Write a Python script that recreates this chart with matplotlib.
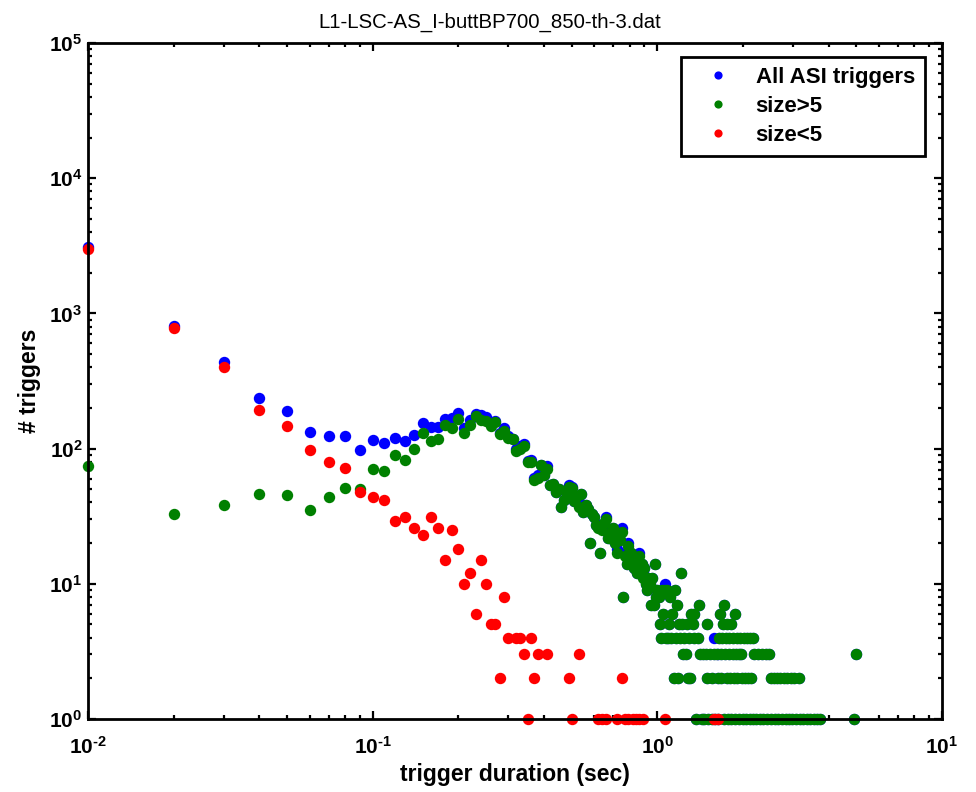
import numpy as np
import matplotlib.pyplot as plt
from matplotlib.ticker import FuncFormatter

plt.rcParams['font.family'] = ['Liberation Sans', 'DejaVu Sans']
plt.rcParams['font.weight'] = 'bold'
plt.rcParams['mathtext.fontset'] = 'custom'
plt.rcParams['mathtext.rm'] = 'Liberation Sans:bold'
plt.rcParams['mathtext.bf'] = 'Liberation Sans:bold'
plt.rcParams['mathtext.sf'] = 'Liberation Sans:bold'
plt.rcParams['mathtext.it'] = 'Liberation Sans:bold:italic'

# ================= data (10 ms histogram bins) =================
dur = [0.01, 0.02, 0.03, 0.04, 0.05, 0.06, 0.07, 0.08, 0.09, 0.10,
       0.11, 0.12, 0.13, 0.14, 0.15, 0.16, 0.17, 0.18, 0.19, 0.20,
       0.21, 0.22, 0.23, 0.24, 0.25, 0.26, 0.27, 0.28, 0.29, 0.30,
       0.31, 0.32, 0.33, 0.34, 0.35, 0.36, 0.37, 0.38, 0.39, 0.40,
       0.41, 0.42, 0.43, 0.44, 0.45, 0.46, 0.47, 0.48, 0.49, 0.50,
       0.51, 0.52, 0.53, 0.54, 0.55, 0.56, 0.57, 0.58, 0.59, 0.60,
       0.61, 0.62, 0.63, 0.64, 0.65, 0.66, 0.67, 0.68, 0.69, 0.70,
       0.71, 0.72, 0.73, 0.74, 0.75, 0.76, 0.77, 0.78, 0.79, 0.80,
       0.81, 0.82, 0.83, 0.84, 0.85, 0.86, 0.87, 0.88, 0.89, 0.90,
       0.91, 0.92, 0.93, 0.94, 0.95, 0.96, 0.97, 0.98, 0.99, 1.00,
       1.01, 1.02, 1.03, 1.04, 1.05, 1.06]

# all ASI triggers
n_all = [3074, 813, 438, 238, 191, 132, 123, 123, 98, 115,
         110, 119, 113, 126, 154, 145, 144, 165, 168, 183,
         141, 162, 181, 177, 170, 153, 161, 130, 143, 124,
         118, 100, 104, 108, 81, 83, 61, 64, 76, 64,
         74, 54, 55, 48, 50, 37, 42, 45, 54, 52,
         41, 44, 40, 46, 34, 38, 36, 20, 33, 31,
         27, 27, 17, 26, 28, 31, 22, 22, 24, 26,
         20, 18, 22, 21, 26, 8, 17, 14, 20, 15,
         17, 15, 13, 15, 12, 17, 12, 14, 12, 13,
         10, 9, 11, 10, 7, 11, 7, 14, 8, 9,
         8, 5, 4, 9, 6, 10]

# size>5
n_big = [74, 33, 38, 46, 45, 35, 44, 51, 50, 71,
         68, 90, 82, 100, 131, 114, 118, 150, 143, 165,
         131, 150, 175, 162, 160, 148, 156, 128, 135, 120,
         118, 96, 100, 105, 80, 79, 59, 61, 76, 64,
         71, 54, 55, 48, 50, 37, 42, 45, 52, 51,
         41, 44, 37, 46, 34, 38, 36, 20, 33, 31,
         27, 26, 17, 25, 28, 30, 22, 22, 24, 26,
         20, 17, 22, 21, 24, 8, 16, 14, 19, 15,
         17, 14, 13, 14, 12, 16, 12, 14, 11, 13,
         10, 9, 11, 10, 7, 11, 7, 14, 8, 9,
         8, 5, 4, 9, 6, 9]

# size<5 (0 = empty bin)
n_small = [3000, 780, 400, 192, 146, 97, 79, 72, 48, 44,
           42, 29, 31, 26, 23, 31, 26, 15, 25, 18,
           10, 12, 6, 15, 10, 5, 5, 2, 8, 4,
           0, 4, 4, 3, 1, 4, 2, 3, 0, 0,
           3, 0, 0, 0, 0, 0, 0, 0, 2, 1,
           0, 0, 3, 0, 0, 0, 0, 0, 0, 0,
           0, 1, 0, 1, 0, 1, 0, 0, 0, 0,
           0, 1, 0, 0, 2, 0, 1, 0, 1, 0,
           0, 1, 0, 1, 0, 1, 0, 0, 1, 0,
           0, 0, 0, 0, 0, 0, 0, 0, 0, 0,
           0, 0, 0, 0, 0, 1]

# long durations, size>5 (count: durations), all = size>5 here
big_tail = {
    12: [1.21],
    9: [1.08, 1.15],
    8: [1.11],
    7: [1.17, 1.40, 1.72],
    6: [1.13, 1.31, 1.35, 1.66, 1.87],
    5: [1.10, 1.19, 1.22, 1.27, 1.33, 1.50, 1.70, 1.76, 1.82],
    4: [1.07, 1.09, 1.12, 1.16, 1.20, 1.24, 1.29, 1.34, 1.39, 1.65,
        1.69, 1.74, 1.79, 1.85, 1.90, 1.95, 2.01, 2.07, 2.12, 2.16],
    3: [1.23, 1.26, 1.41, 1.45, 1.48, 1.53, 1.58, 1.62, 1.67, 1.73,
        1.78, 1.84, 1.89, 1.93, 1.97, 2.19, 2.26, 2.33, 2.40, 2.47, 5.00],
    2: [1.14, 1.18, 1.28, 1.30, 1.49, 1.55, 1.63, 1.68, 1.75, 1.80,
        1.86, 1.91, 1.98, 2.04, 2.09, 2.13, 2.50, 2.56, 2.63, 2.70,
        2.78, 2.86, 2.94, 3.03, 3.14],
    1: [1.37, 1.43, 1.46, 1.51, 1.56, 1.60, 1.64, 1.71, 1.77, 1.81,
        1.88, 1.94, 2.00, 2.05, 2.11, 2.17, 2.23, 2.29, 2.36, 2.43,
        2.51, 2.58, 2.66, 2.74, 2.82, 2.90, 2.98, 3.07, 3.16, 3.25,
        3.35, 3.45, 3.55, 3.65, 3.74, 4.90],
}
all_tail_extra = {4: [1.58], 3: [1.63]}
small_tail_dur = [1.58, 1.63]
small_tail_n = [1, 1]


def rows_to_xy(rows):
    x, y = [], []
    for c, ds in rows.items():
        x += ds
        y += [c] * len(ds)
    return np.array(x), np.array(y, dtype=float)


# 10^n label with a plain hyphen like the original
def pow10_label(v, pos):
    e = int(round(np.log10(v)))
    e_txt = str(e).replace('-', r'\text{-}')
    return r'$\mathdefault{10^{%s}}$' % e_txt


bx, by = rows_to_xy(big_tail)
ex, ey = rows_to_xy(all_tail_extra)
small = np.array(n_small, dtype=float)
small[small == 0] = np.nan

# ================= plot =================
fig = plt.figure(figsize=(9.76, 7.92), dpi=100)
ax = fig.add_axes([88/976, 1 - 719/792, (942 - 88)/976, (719 - 43)/792])

kw = dict(ls='none', marker='o', ms=8.2, mew=0, clip_on=False)
ax.plot(np.r_[dur, bx, ex], np.r_[n_all, by, ey], color='#0000ff',
        label='All ASI triggers', **kw)
ax.plot(np.r_[dur, bx], np.r_[n_big, by], color='#008000',
        label='size>5', **kw)
ax.plot(np.r_[dur, small_tail_dur], np.r_[small, small_tail_n], color='#ff0000',
        label='size<5', **kw)

ax.set_xscale('log')
ax.set_yscale('log')
ax.set_xlim(1e-2, 1e1)
ax.set_ylim(1e0, 1e5)
ax.xaxis.set_major_formatter(FuncFormatter(pow10_label))
ax.yaxis.set_major_formatter(FuncFormatter(pow10_label))

for s in ax.spines.values():
    s.set_linewidth(2.0)
ax.tick_params(which='both', direction='in', top=True, right=True,
               width=1.6, labelsize=15)
ax.tick_params(which='major', length=6)
ax.tick_params(which='minor', length=3)
ax.tick_params(axis='x', pad=12)
ax.tick_params(axis='y', pad=4)

ax.set_xlabel('trigger duration (sec)', fontsize=16.5, fontweight='bold', labelpad=4)
ax.set_ylabel('# triggers', fontsize=16.5, fontweight='bold', labelpad=6)
fig.text(490/976, 1 - 28/792, 'L1-LSC-AS_I-buttBP700_850-th-3.dat',
         ha='center', va='baseline', fontsize=14.7, fontweight='normal')

leg = ax.legend(loc='upper right', bbox_to_anchor=(0.980, 0.979),
                fontsize=16, markerscale=0.72, numpoints=1,
                fancybox=False, framealpha=1, edgecolor='black',
                borderaxespad=0, handlelength=2.4, handletextpad=0.5,
                labelspacing=0.36, borderpad=0.45)
leg.get_frame().set_linewidth(2.0)

fig.savefig('out.png', dpi=100)
